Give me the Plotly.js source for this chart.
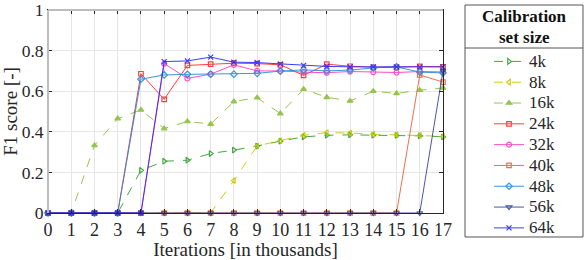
<!DOCTYPE html>
<html>
<head>
<meta charset="utf-8">
<script src="https://cdn.plot.ly/plotly-3.0.1.min.js"></script>
<style>html,body{margin:0;padding:0;background:#fff;}#chart{width:584px;height:260px;}</style>
</head>
<body>
<div id="chart"></div>
<script>
var iterations = [0,1,2,3,4,5,6,7,8,9,10,11,12,13,14,15,16,17];
var seriesNames = ["4k","8k","16k","24k","32k","40k","48k","56k","64k"];
var f1_4k  = [0,0,0,0,0.21,0.255,0.26,0.293,0.31,0.33,0.354,0.375,0.383,0.385,0.383,0.382,0.38,0.375];
var f1_8k  = [0,0,0,0,0,0,0,0,0.16,0.33,0.357,0.383,0.396,0.394,0.388,0.385,0.383,0.378];
var f1_16k = [0,0,0.333,0.465,0.508,0.416,0.451,0.438,0.549,0.568,0.49,0.61,0.57,0.552,0.60,0.589,0.605,0.616];
var f1_24k = [0,0,0,0,0.686,0.56,0.727,0.733,0.738,0.736,0.73,0.678,0.733,0.723,0.718,0.718,0.722,0.72];
var f1_32k = [0,0,0,0,0,0.736,0.663,0.684,0.73,0.70,0.70,0.694,0.691,0.697,0.694,0.692,0.697,0.695];
var f1_40k = [0,0,0,0,0,0,0,0,0,0,0,0,0,0,0,0,0.68,0.645];
var f1_48k = [0,0,0,0,0.659,0.68,0.683,0.684,0.684,0.688,0.699,0.705,0.70,0.704,0.715,0.72,0.694,0.69];
var f1_56k = [0,0,0,0,0,0,0,0,0,0,0,0,0,0,0,0,0,0.70];
var f1_64k = [0,0,0,0,0,0.746,0.749,0.768,0.743,0.741,0.735,0.727,0.722,0.72,0.72,0.72,0.72,0.72];
var xTickLabels = ["0","1","2","3","4","5","6","7","8","9","10","11","12","13","14","15","16","17"];

var values = [f1_4k,f1_8k,f1_16k,f1_24k,f1_32k,f1_40k,f1_48k,f1_56k,f1_64k];
var colors = ["#2e9e2e","#c8c800","#8cbf3c","#ff2a2a","#ff3cc0","#e8643a","#2a8ad8","#34489e","#2828ff"];
var dashes = ["dash","dash","dash","solid","solid","solid","solid","solid","solid"];
var symbols = ["triangle-right-open","triangle-left-open","triangle-up","square-open","circle-open","square-open","diamond-open","triangle-down-open","x-thin-open"];
var msizes = [5,5,5,4.5,5,4.5,5,5,5];

var serif = "Liberation Serif";
var traces = values.map(function(v,i){
  return {
    x: iterations, y: v, type: "scatter", mode: "lines+markers",
    name: '<span style="font-size:17px">' + seriesNames[i] + '</span>',
    cliponaxis: false,
    line: {color: colors[i], width: 1, dash: dashes[i]},
    marker: {symbol: symbols[i], size: msizes[i], color: colors[i], line: {color: colors[i], width: 1.2}},
    opacity: 0.9
  };
});

var layout = {
  width: 584, height: 260,
  margin: {l: 48, r: 141, t: 10, b: 47, pad: 0},
  paper_bgcolor: "#fff", plot_bgcolor: "#fff",
  font: {family: serif, color: "#262626", size: 18},
  showlegend: true,
  legend: {x: 1.1165, y: 0.8227, xanchor: "left", yanchor: "top", bgcolor: "rgba(0,0,0,0)",
           borderwidth: 0, font: {family: serif, size: 13.7, color: "#262626"}, tracegroupgap: 0},
  xaxis: {range: [0,17], tickvals: iterations, ticktext: xTickLabels, showgrid: true, gridcolor: "#e6e6e6",
          zeroline: false, showline: true, linecolor: "#262626", linewidth: 1, mirror: "ticks",
          ticks: "inside", ticklen: 4, tickcolor: "#262626", tickfont: {size: 18, family: serif},
          title: {text: "Iterations [in thousands]", font: {size: 19, family: serif}, standoff: 4}},
  yaxis: {range: [0,1], tickvals: [0,0.2,0.4,0.6,0.8,1], ticktext: ["0","0.2","0.4","0.6","0.8","1"],
          showgrid: true, gridcolor: "#e6e6e6", zeroline: false, showline: true, linecolor: "#262626",
          linewidth: 1, mirror: "ticks", ticks: "inside", ticklen: 4, tickcolor: "#262626",
          tickfont: {size: 17.5, family: serif}, ticklabeloverflow: "allow",
          title: {text: "F1 score [-]", font: {size: 19, family: serif}, standoff: 6}},
  shapes: [
    {type: "line", xref: "paper", yref: "paper", x0: 0, x1: 0, y0: 0, y1: 1, line: {color: "#bdbdbd", width: 2}},
    {type: "line", xref: "paper", yref: "paper", x0: 0, x1: 1, y0: 1, y1: 1, line: {color: "#bdbdbd", width: 2}},
    {type: "rect", xref: "paper", yref: "paper", x0: 1.0557, x1: 1.3544, y0: -0.1182, y1: 1.0246, line: {color: "#555", width: 1}},
    {type: "line", xref: "paper", yref: "paper", x0: 1.0557, x1: 1.3544, y0: 0.8128, y1: 0.8128, line: {color: "#555", width: 1}}
  ],
  annotations: [
    {xref: "paper", yref: "paper", x: 1.2051, y: 0.9672, xanchor: "center", yanchor: "middle", showarrow: false,
     text: "Calibration", font: {family: serif, size: 17, color: "#111", weight: "bold"}},
    {xref: "paper", yref: "paper", x: 1.2051, y: 0.8638, xanchor: "center", yanchor: "middle", showarrow: false,
     text: "set size", font: {family: serif, size: 17, color: "#111", weight: "bold"}}
  ]
};

Plotly.newPlot("chart", traces, layout, {displayModeBar: false, staticPlot: true});
</script>
</body>
</html>
